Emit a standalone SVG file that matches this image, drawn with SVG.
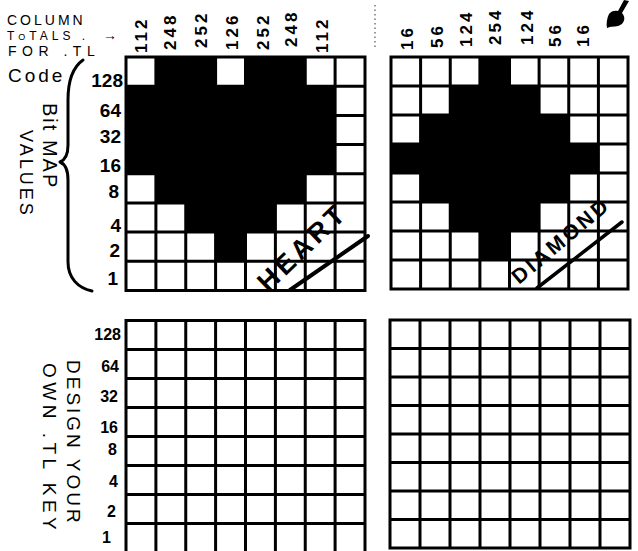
<svg xmlns="http://www.w3.org/2000/svg" width="638" height="551" viewBox="0 0 638 551">
<style>
.bg{fill:#fff}
.grid{fill:none;stroke:#000;stroke-width:3;stroke-linecap:square}
.on{fill:#000}
.t{font-family:"Liberation Sans",Arial,sans-serif;fill:#000}
.lbl{font-family:"Liberation Sans",Arial,sans-serif;font-weight:bold;fill:#000}
.num{font-family:"Liberation Sans",Arial,sans-serif;font-weight:bold;font-size:17px;letter-spacing:3px;fill:#000}
.row{font-family:"Liberation Sans",Arial,sans-serif;font-weight:bold;font-size:19px;fill:#000;text-anchor:end}
.row2{font-family:"Liberation Sans",Arial,sans-serif;font-weight:bold;font-size:16px;fill:#000;text-anchor:end}
.ink{fill:none;stroke:#000;stroke-linecap:round;stroke-linejoin:round}
</style>
<rect class="bg" x="0" y="0" width="638" height="551"/>

<g id="header">
<text class="t" x="7" y="25" font-size="14" letter-spacing="3">COLUMN</text>
<text class="t" x="7" y="39.5" font-size="12" letter-spacing="4">T<tspan font-size="9">O</tspan>TALS .</text>
<text class="t" x="103" y="40" font-size="14">→</text>
<text class="t" x="8" y="56" font-size="14" letter-spacing="5.5">FOR .TL</text>
<text class="t" x="8" y="82" font-size="19" letter-spacing="3">Code</text>
</g>

<g id="bitmap-label">
<path class="ink" stroke-width="3" d="M83 60 C73 67 68 80 68 100 L68 145 C68 155 65 160 60 162 C65 164 68 170 68 180 L68 262 C68 278 78 288 92 291"/>
<text class="t" font-size="20" letter-spacing="2" transform="translate(43,103) rotate(90)">Bit MAP</text>
<text class="t" font-size="18" letter-spacing="3" transform="translate(20,130) rotate(90)">VALUES</text>
</g>

<g id="heart-grid">
<g class="on">
<rect x="125.5" y="85.7" width="30.9" height="88.6"/>
<rect x="155.4" y="56.5" width="30.9" height="147"/>
<rect x="185.2" y="56.5" width="30.9" height="176.1"/>
<rect x="215.1" y="85.7" width="30.9" height="176.1"/>
<rect x="245" y="56.5" width="30.9" height="176.1"/>
<rect x="274.9" y="56.5" width="30.9" height="147"/>
<rect x="304.7" y="85.7" width="30.9" height="88.6"/>
</g>
<path class="grid" d="M126 57V290.5M155.9 57V290.5M185.75 57V290.5M215.6 57V290.5M245.5 57V290.5M275.4 57V290.5M305.25 57V290.5M335.1 57V290.5M365 57V290.5M126 57H365M126 86.2H365M126 115.4H365M126 144.6H365M126 173.75H365M126 202.9H365M126 232.1H365M126 261.3H365M126 290.5H365"/>
<text class="row" x="123" y="87">128</text>
<text class="row" x="121" y="117">64</text>
<text class="row" x="121" y="143">32</text>
<text class="row" x="121" y="172">16</text>
<text class="row" x="119" y="198">8</text>
<text class="row" x="121" y="232">4</text>
<text class="row" x="120" y="257">2</text>
<text class="row" x="118" y="285">1</text>
<text class="num" transform="translate(147,53) rotate(-90)">112</text>
<text class="num" transform="translate(176,50) rotate(-90)">248</text>
<text class="num" transform="translate(207,48) rotate(-90)">252</text>
<text class="num" transform="translate(238,50) rotate(-90)">126</text>
<text class="num" transform="translate(269,50) rotate(-90)">252</text>
<text class="num" transform="translate(297,47) rotate(-90)">248</text>
<text class="num" transform="translate(328,53) rotate(-90)">112</text>
<text class="lbl" font-size="27" letter-spacing="4" transform="translate(268,293) rotate(-44)">HEART</text>
<path class="ink" stroke-width="4" d="M290 290 L368 236"/>
</g>

<g id="diamond-grid">
<g class="on">
<rect x="390.5" y="143.5" width="30.6" height="30"/>
<rect x="420.1" y="114.5" width="30.6" height="88"/>
<rect x="449.75" y="85.5" width="30.6" height="146"/>
<rect x="479.4" y="56.5" width="30.6" height="204"/>
<rect x="509" y="85.5" width="30.6" height="146"/>
<rect x="538.6" y="114.5" width="30.6" height="88"/>
<rect x="568.25" y="143.5" width="30.6" height="30"/>
</g>
<path class="grid" d="M391 57V289M420.6 57V289M450.25 57V289M479.9 57V289M509.5 57V289M539.1 57V289M568.75 57V289M598.4 57V289M628 57V289M391 57H628M391 86H628M391 115H628M391 144H628M391 173H628M391 202H628M391 231H628M391 260H628M391 289H628"/>
<text class="num" transform="translate(413,50) rotate(-90)">16</text>
<text class="num" transform="translate(443,48) rotate(-90)">56</text>
<text class="num" transform="translate(472,47) rotate(-90)">124</text>
<text class="num" transform="translate(501,45) rotate(-90)">254</text>
<text class="num" transform="translate(533,45) rotate(-90)">124</text>
<text class="num" transform="translate(561,47) rotate(-90)">56</text>
<text class="num" transform="translate(589,47) rotate(-90)">16</text>
<text class="lbl" font-size="21" letter-spacing="3" transform="translate(519,285) rotate(-40)">DIAMOND</text>
<path class="ink" stroke-width="3.5" d="M537 288 L622 222"/>
</g>

<g id="design-grid">
<path class="grid" d="M126 320.5V560M155.9 320.5V560M185.75 320.5V560M215.6 320.5V560M245.5 320.5V560M275.4 320.5V560M305.25 320.5V560M335.1 320.5V560M365 320.5V560M126 320.5H365M126 349.5H365M126 378.5H365M126 407.5H365M126 436.5H365M126 465.5H365M126 494.5H365M126 523.5H365"/>
<text class="row2" x="121" y="340" font-size="14">128</text>
<text class="row2" x="119" y="372">64</text>
<text class="row2" x="118" y="402">32</text>
<text class="row2" x="118" y="433">16</text>
<text class="row2" x="117" y="455">8</text>
<text class="row2" x="118" y="487">4</text>
<text class="row2" x="116" y="517">2</text>
<text class="row2" x="111" y="543">1</text>
<text class="t" font-size="19" letter-spacing="3" transform="translate(67,360) rotate(90)">DESIGN YOUR</text>
<text class="t" font-size="19" letter-spacing="4.5" transform="translate(43,363) rotate(90)">OWN .TL KEY</text>
</g>

<g id="blank-grid">
<path class="grid" d="M390 320V548M420 320V548M450 320V548M480 320V548M510 320V548M540 320V548M570 320V548M600 320V548M630 320V548M390 320H630M390 348.5H630M390 377H630M390 405.5H630M390 434H630M390 462.5H630M390 491H630M390 519.5H630M390 548H630"/>
</g>

<g id="marks">
<path d="M375 5V47" stroke="#555" stroke-width="1.2" stroke-dasharray="1.5 3" fill="none"/>
<path class="on" d="M624 0 L629 1 L622 13 C626 17 625 24 618 26 C614 27 611 26 607 28 C606 24 607 18 609 14 C611 11 615 10 618 11 Z"/>
</g>
</svg>
